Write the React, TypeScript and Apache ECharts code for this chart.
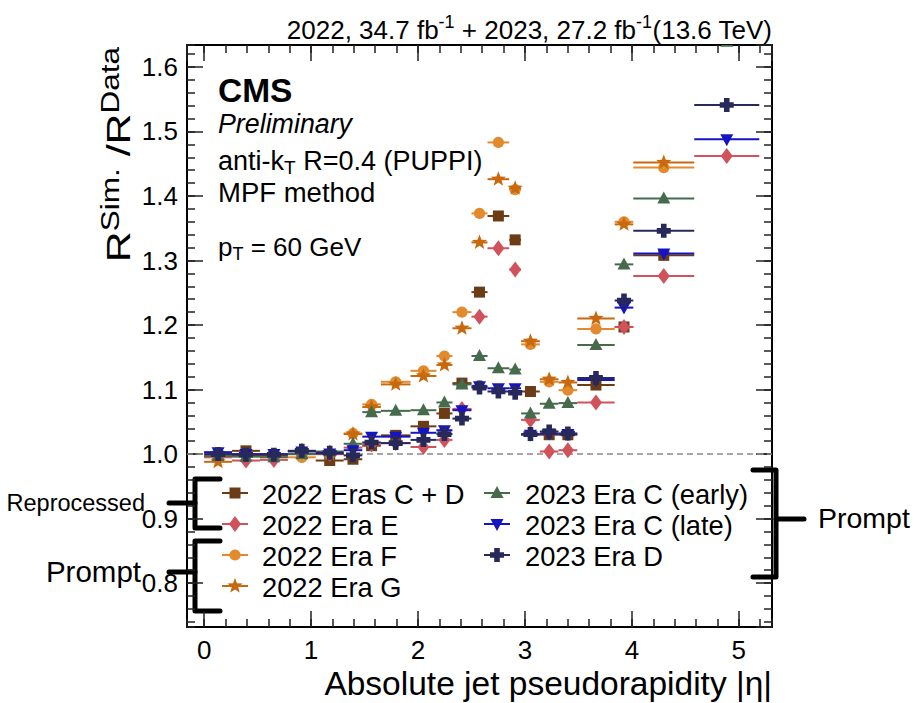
import React, { useEffect, useRef } from "react";
import * as echarts from "echarts";

// ---------- data ----------
const binEdges = [0, 0.261, 0.522, 0.783, 1.044, 1.305, 1.479, 1.653, 1.93, 2.172, 2.322, 2.5, 2.65, 2.853, 2.964, 3.139, 3.314, 3.489, 3.839, 4.013, 4.583, 5.191];

const era2022CD = [0.997, 1.005, 0.997, 1.0, 0.99, 0.992, 1.013, 1.029, 1.043, 1.063, 1.11, 1.251, 1.369, 1.332, 1.097, 1.03, 1.03, 1.107, 1.197, 1.308, null];
const era2022E = [0.995, 0.99, 0.991, 1.005, 1.0, 1.01, 1.015, 1.017, 1.011, 1.022, 1.07, 1.213, 1.319, 1.286, 1.053, 1.004, 1.006, 1.08, 1.197, 1.276, 1.462];
const era2022F = [0.998, 0.998, 0.998, 0.995, 1.0, 1.032, 1.077, 1.112, 1.129, 1.152, 1.22, 1.373, 1.483, 1.41, 1.17, 1.112, 1.099, 1.194, 1.36, 1.444, null];
const era2022G = [0.988, 0.997, 0.997, 1.0, 1.0, 1.031, 1.073, 1.108, 1.121, 1.138, 1.195, 1.328, 1.426, 1.412, 1.175, 1.116, 1.111, 1.21, 1.356, 1.452, null];
const era2023CEarly = [0.997, 0.996, 0.995, 1.0, 1.004, 1.016, 1.065, 1.067, 1.068, 1.08, 1.108, 1.152, 1.133, 1.131, 1.063, 1.078, 1.079, 1.169, 1.294, 1.396, 1.639];
const era2023CLate = [1.003, 1.0, 1.0, 1.004, 1.001, 1.006, 1.027, 1.027, 1.033, 1.037, 1.068, 1.105, 1.102, 1.102, 1.03, 1.032, 1.031, 1.115, 1.227, 1.311, 1.488];
const era2023D = [1.0, 0.999, 0.999, 1.005, 1.002, 0.998, 1.018, 1.017, 1.022, 1.031, 1.055, 1.103, 1.097, 1.095, 1.031, 1.035, 1.032, 1.118, 1.238, 1.346, 1.541];

const seriesNames = ["2022 Eras C + D", "2022 Era E", "2022 Era F", "2022 Era G", "2023 Era C (early)", "2023 Era C (late)", "2023 Era D"];
const seriesValues = [era2022CD, era2022E, era2022F, era2022G, era2023CEarly, era2023CLate, era2023D];
const seriesColors = ["#6b3c15", "#d0525a", "#e38a2e", "#c8690e", "#456b4c", "#1414c4", "#27295b"];
const seriesMarkers = ["square", "diamond", "circle", "star", "triUp", "triDown", "cross"];

const X_MIN = -0.16;
const X_MAX = 5.31;
const Y_MIN = 0.732;
const Y_MAX = 1.634;

const FONT = "'Liberation Sans', Arial, Helvetica, sans-serif";

// ---------- marker shapes ----------
function starPoints(cx: number, cy: number, R: number, r: number) {
  const pts: number[][] = [];
  for (let i = 0; i < 10; i++) {
    const a = -Math.PI / 2 + (i * Math.PI) / 5;
    const rad = i % 2 === 0 ? R : r;
    pts.push([cx + rad * Math.cos(a), cy + rad * Math.sin(a)]);
  }
  return pts;
}
function crossPoints(cx: number, cy: number, L: number, w: number) {
  return [
    [cx - w, cy - L], [cx + w, cy - L], [cx + w, cy - w], [cx + L, cy - w], [cx + L, cy + w], [cx + w, cy + w],
    [cx + w, cy + L], [cx - w, cy + L], [cx - w, cy + w], [cx - L, cy + w], [cx - L, cy - w], [cx - w, cy - w],
  ];
}
function markerEl(kind: string, cx: number, cy: number, color: string): any {
  const style = { fill: color };
  switch (kind) {
    case "square":
      return { type: "rect", shape: { x: cx - 5.5, y: cy - 5.5, width: 11, height: 11 }, style };
    case "circle":
      return { type: "circle", shape: { cx, cy, r: 5.6 }, style };
    case "diamond":
      return { type: "polygon", shape: { points: [[cx, cy - 8], [cx + 6, cy], [cx, cy + 8], [cx - 6, cy]] }, style };
    case "star":
      return { type: "polygon", shape: { points: starPoints(cx, cy, 8, 3.4) }, style };
    case "triUp":
      return { type: "polygon", shape: { points: [[cx, cy - 7], [cx + 6.5, cy + 5], [cx - 6.5, cy + 5]] }, style };
    case "triDown":
      return { type: "polygon", shape: { points: [[cx, cy + 7], [cx + 6.5, cy - 5], [cx - 6.5, cy - 5]] }, style };
    default:
      return { type: "polygon", shape: { points: crossPoints(cx, cy, 7, 2.8) }, style };
  }
}

function buildSeriesData(values: (number | null)[]) {
  const out: number[][] = [];
  values.forEach((v, i) => {
    if (v === null) return;
    const lo = binEdges[i];
    const hi = binEdges[i + 1];
    out.push([(lo + hi) / 2, v, lo, hi]);
  });
  return out;
}

function makeOption(): any {
  const axisLineStyle = { color: "#000", width: 2 };
  const tickStyle = { color: "#222", width: 1.5 };
  const common = { type: "value", min: X_MIN, max: X_MAX, splitLine: { show: false } };
  const commonY = { type: "value", min: Y_MIN, max: Y_MAX, splitLine: { show: false } };
  const labelStyle = { fontFamily: FONT, fontSize: 26, color: "#000" };

  const xAxis = [
    {
      ...common, position: "bottom", splitNumber: 5,
      axisLine: { show: true, lineStyle: axisLineStyle, onZero: false },
      axisTick: { show: true, inside: true, length: 16, lineStyle: tickStyle },
      axisLabel: { ...labelStyle, margin: 10, showMinLabel: false, showMaxLabel: false, formatter: (v: number) => String(Math.round(v)) },
    },
    {
      ...common, position: "bottom", splitNumber: 27,
      axisLine: { show: false, onZero: false },
      axisTick: { show: true, inside: true, length: 8, lineStyle: tickStyle },
      axisLabel: { show: false },
    },
    {
      ...common, position: "top", splitNumber: 5,
      axisLine: { show: true, lineStyle: axisLineStyle, onZero: false },
      axisTick: { show: true, inside: true, length: 16, lineStyle: tickStyle },
      axisLabel: { show: false },
    },
    {
      ...common, position: "top", splitNumber: 27,
      axisLine: { show: false, onZero: false },
      axisTick: { show: true, inside: true, length: 8, lineStyle: tickStyle },
      axisLabel: { show: false },
    },
  ];
  const yAxis = [
    {
      ...commonY, position: "left", splitNumber: 9,
      axisLine: { show: true, lineStyle: axisLineStyle, onZero: false },
      axisTick: { show: true, inside: true, length: 16, lineStyle: tickStyle },
      axisLabel: { ...labelStyle, margin: 9, showMinLabel: false, showMaxLabel: false, formatter: (v: number) => v.toFixed(1) },
    },
    {
      ...commonY, position: "left", splitNumber: 45,
      axisLine: { show: false, onZero: false },
      axisTick: { show: true, inside: true, length: 8, lineStyle: tickStyle },
      axisLabel: { show: false },
    },
    {
      ...commonY, position: "right", splitNumber: 9,
      axisLine: { show: true, lineStyle: axisLineStyle, onZero: false },
      axisTick: { show: true, inside: true, length: 16, lineStyle: tickStyle },
      axisLabel: { show: false },
    },
    {
      ...commonY, position: "right", splitNumber: 45,
      axisLine: { show: false, onZero: false },
      axisTick: { show: true, inside: true, length: 8, lineStyle: tickStyle },
      axisLabel: { show: false },
    },
  ];

  const series: any[] = [
    {
      type: "line", name: "unity", silent: true, symbol: "none", xAxisIndex: 0, yAxisIndex: 0,
      data: [[X_MIN, 1.0], [X_MAX, 1.0]],
      lineStyle: { color: "#8a8a8a", width: 1.5, type: [6, 4] },
      z: 1,
    },
  ];
  seriesNames.forEach((name, si) => {
    const color = seriesColors[si];
    const kind = seriesMarkers[si];
    series.push({
      type: "custom", name, xAxisIndex: 0, yAxisIndex: 0, clip: true, z: 2,
      encode: { x: [0, 2, 3], y: 1 },
      data: buildSeriesData(seriesValues[si]),
      renderItem: (params: any, api: any) => {
        const xc = api.value(0);
        const y = api.value(1);
        const lo = api.value(2);
        const hi = api.value(3);
        const pLo = api.coord([lo, y]);
        const pHi = api.coord([hi, y]);
        const pc = api.coord([xc, y]);
        return {
          type: "group",
          children: [
            { type: "line", shape: { x1: pLo[0], y1: pLo[1], x2: pHi[0], y2: pHi[1] }, style: { stroke: color, lineWidth: 2 } },
            markerEl(kind, pc[0], pc[1], color),
          ],
        };
      },
    });
  });

  // ---------- graphic: texts, legend, brackets ----------
  const g: any[] = [];
  const txt = (x: number, y: number, text: string, size: number, extra: any = {}, el: any = {}) => ({
    type: "text", x, y, ...el,
    style: { text, fontFamily: FONT, fontSize: size, fill: "#000", align: "left", verticalAlign: "middle", ...extra },
  });

  // header
  g.push(txt(772, 28, "{m|2022, 34.7 fb}{s|-1}{m| + 2023, 27.2 fb}{s|-1}{m|(13.6 TeV)}", 26, {
    align: "right",
    rich: {
      m: { fontFamily: FONT, fontSize: 26, verticalAlign: "bottom", padding: [4, 0, 0, 0], fill: "#000" },
      s: { fontFamily: FONT, fontSize: 18, verticalAlign: "top", fill: "#000" },
    },
  }));
  // y-axis title (rotated, stretched along reading direction)
  g.push(txt(135, 47, "{r|R}{s|Sim.}{r| /R}{s|Data}", 34, {
    align: "right", verticalAlign: "bottom",
    rich: {
      r: { fontFamily: FONT, fontSize: 34, verticalAlign: "bottom", padding: [3, 0, 0, 0], fill: "#000" },
      s: { fontFamily: FONT, fontSize: 25, verticalAlign: "top", fill: "#000" },
    },
  }, { rotation: Math.PI / 2, scaleX: 1.26 }));
  // x-axis title
  g.push(txt(772, 683, "Absolute jet pseudorapidity |η|", 33.5, { align: "right" }));

  // CMS block
  g.push(txt(218, 90, "CMS", 33.5, { fontWeight: "bold" }));
  g.push(txt(218, 124, "Preliminary", 26.8, { fontStyle: "italic" }));
  g.push(txt(218, 162, "{m|anti-k}{s|T}{m| R=0.4 (PUPPI)}", 27, {
    rich: {
      m: { fontFamily: FONT, fontSize: 27, verticalAlign: "top", padding: [0, 0, 2, 0], fill: "#000" },
      s: { fontFamily: FONT, fontSize: 19, verticalAlign: "bottom", fill: "#000" },
    },
  }));
  g.push(txt(218, 192, "MPF method", 27.5));
  g.push(txt(218, 248, "{m|p}{s|T}{m| = 60 GeV}", 26, {
    rich: {
      m: { fontFamily: FONT, fontSize: 26, verticalAlign: "top", padding: [0, 0, 3, 0], fill: "#000" },
      s: { fontFamily: FONT, fontSize: 18, verticalAlign: "bottom", fill: "#000" },
    },
  }));

  // legend
  const rowsY = [493, 524, 555, 586];
  seriesNames.forEach((name, si) => {
    const col = si < 4 ? 0 : 1;
    const row = si < 4 ? si : si - 4;
    const mx = col === 0 ? 235 : 497;
    const tx = col === 0 ? 262 : 525;
    const y = rowsY[row];
    const color = seriesColors[si];
    g.push({ type: "line", shape: { x1: mx - 13, y1: y, x2: mx + 13, y2: y }, style: { stroke: color, lineWidth: 2 } });
    g.push(markerEl(seriesMarkers[si], mx, y, color));
    g.push(txt(tx, y + 1, name, 27.3));
  });

  // brackets
  const br = (pts: number[][]) => ({ type: "polyline", shape: { points: pts }, style: { stroke: "#000", lineWidth: 5, fill: null, lineJoin: "round", lineCap: "round" } });
  g.push(br([[220, 479], [195, 479], [195, 528], [220, 528]]));
  g.push(br([[169, 503], [195, 503]]));
  g.push(br([[220, 541], [195, 541], [195, 611], [220, 611]]));
  g.push(br([[169, 572], [195, 572]]));
  g.push(br([[753, 470], [776, 470], [776, 577], [753, 577]]));
  g.push(br([[776, 519], [804, 519]]));

  g.push(txt(145, 503, "Reprocessed", 23.5, { align: "right" }));
  g.push(txt(141, 571, "Prompt", 29.5, { align: "right" }));
  g.push(txt(818, 518, "Prompt", 28.5));

  return {
    animation: false,
    backgroundColor: "#fff",
    grid: { left: 187, right: 150, top: 45, bottom: 76, containLabel: false, outerBoundsMode: "none" },
    xAxis,
    yAxis,
    series,
    graphic: { elements: g },
  };
}

export default function App() {
  const ref = useRef<HTMLDivElement>(null);
  useEffect(() => {
    if (!ref.current) return;
    const chart = echarts.init(ref.current, undefined, { renderer: "svg" });
    chart.setOption(makeOption());
    return () => chart.dispose();
  }, []);
  return (
    <div
      ref={ref}
      style={{ position: "fixed", left: 0, top: 0, width: 922, height: 703, background: "#fff" }}
    />
  );
}
